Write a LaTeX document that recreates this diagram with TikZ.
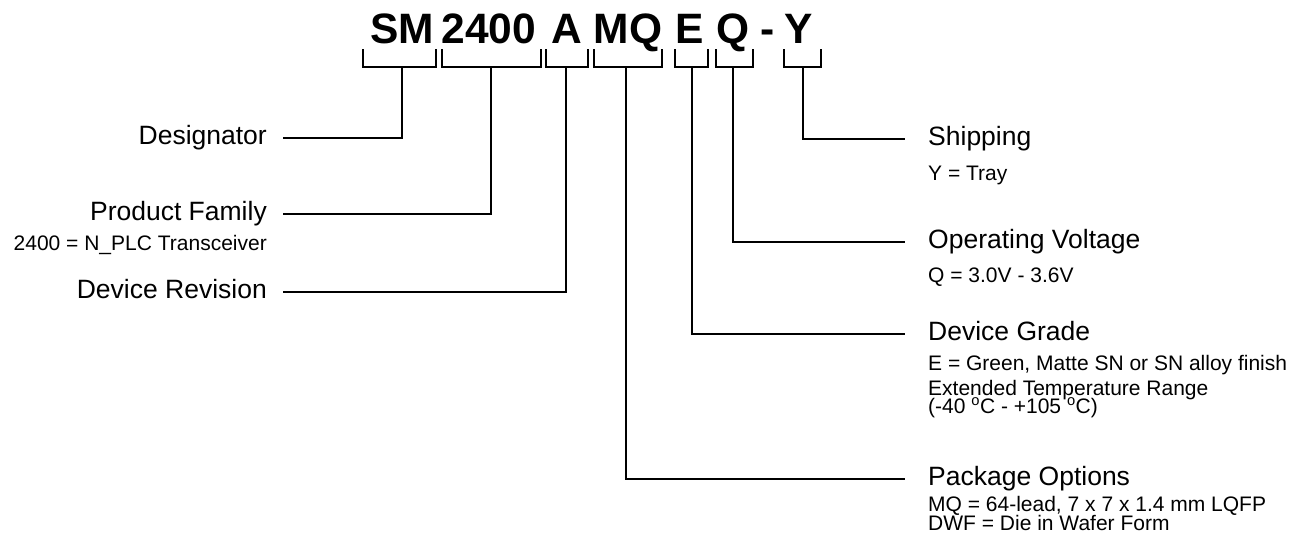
\documentclass[tikz,border=0pt]{standalone}
\usepackage{fontspec}
\setmainfont{Liberation Sans}
\usetikzlibrary{positioning}

\begin{document}
\begin{tikzpicture}[
  x=1pt,y=-1pt,
  code/.style={font=\fontsize{42.5}{50}\selectfont\bfseries,inner sep=0pt,anchor=base},
  head/.style={font=\fontsize{26.5}{30}\selectfont,inner sep=0pt,
               text height=19pt,text depth=5.5pt},
  sub/.style={font=\fontsize{21}{24}\selectfont,inner sep=0pt,
              text height=15pt,text depth=4.5pt},
  brk/.style={line width=2.7pt},
  lead/.style={line width=2.7pt}
]
\useasboundingbox (0,0) rectangle (1308,546);

% the part number, one node per field
\node[code] (cSM)   at (402,43) {SM};
\node[code] (c2400) at (489,43) {2400};
\node[code] (cA)    at (567,43) {A};
\node[code] (cMQ)   at (628,43) {MQ};
\node[code] (cE)    at (690,43) {E};
\node[code] (cQ)    at (733,43) {Q};
\node[code] (cdash) at (768,43) {-};
\node[code] (cY)    at (799,43) {Y};

% brackets under the fields
\foreach \xl/\xr in {363/436, 442/541, 546/588, 594/662, 675/708, 716/753, 784/821}
  {\draw[brk] (\xl,49) |- (\xr,67) -- (\xr,49);}

\coordinate (tSM)   at (402,67);
\coordinate (t2400) at (491,67);
\coordinate (tA)    at (566,67);
\coordinate (tMQ)   at (626,67);
\coordinate (tE)    at (692,67);
\coordinate (tQ)    at (733,67);
\coordinate (tY)    at (803,67);

% left side
\node[head,anchor=east] (desig)  at (267,138) {Designator};
\node[head,anchor=east] (family) at (267,214) {Product Family};
\node[head,anchor=east] (revis)  at (267,292) {Device Revision};
\node[sub,below=8.5pt of family.south east,anchor=north east] (familyTxt)
  {2400 = N\_PLC Transceiver};

% right side
\node[head,anchor=west] (ship)  at (928,139) {Shipping};
\node[head,anchor=west] (volt)  at (928,242) {Operating Voltage};
\node[head,anchor=west] (grade) at (928,334) {Device Grade};
\node[head,anchor=west] (pack)  at (928,479) {Package Options};

\node[sub,below=13.5pt of ship.south west,anchor=north west] (shipTxt) {Y = Tray};
\node[sub,below=12.5pt of volt.south west,anchor=north west] (voltTxt) {Q = 3.0V - 3.6V};
\node[sub,below=8.5pt of grade.south west,anchor=north west] (gradeTxt)
  {E = Green, Matte SN or SN alloy finish};
\node[sub,below=5pt of gradeTxt.south west,anchor=north west] (tempTxt)
  {Extended Temperature Range};
\node[sub,below=-1.5pt of tempTxt.south west,anchor=north west] (rangeTxt)
  {(-40 \textsuperscript{o}C - +105 \textsuperscript{o}C)};
\node[sub,below=4.5pt of pack.south west,anchor=north west] (packTxt)
  {MQ = 64-lead, 7 x 7 x 1.4 mm LQFP};
\node[sub,below=-0.5pt of packTxt.south west,anchor=north west] (dwfTxt)
  {DWF = Die in Wafer Form};

% leaders
\draw[lead,shorten >=16pt] (tSM)   |- (desig.east);
\draw[lead,shorten >=16pt] (t2400) |- (family.east);
\draw[lead,shorten >=16pt] (tA)    |- (revis.east);
\draw[lead,shorten >=23pt] (tY)    |- (ship.west);
\draw[lead,shorten >=23pt] (tQ)    |- (volt.west);
\draw[lead,shorten >=23pt] (tE)    |- (grade.west);
\draw[lead,shorten >=23pt] (tMQ)   |- (pack.west);
\end{tikzpicture}
\end{document}
